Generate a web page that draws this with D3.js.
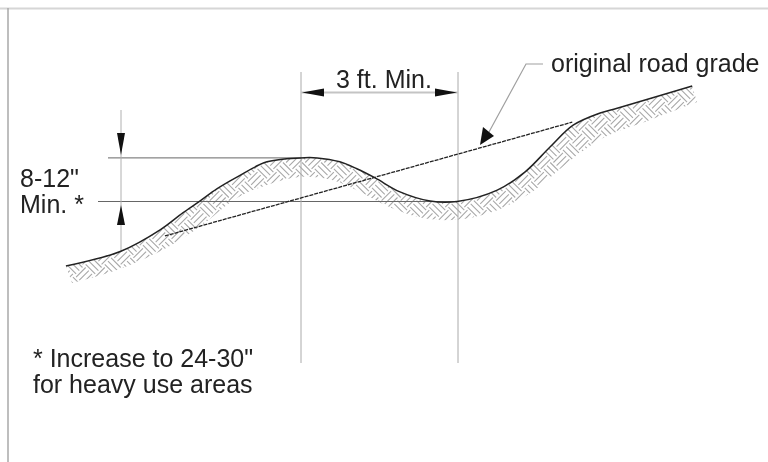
<!DOCTYPE html>
<html>
<head>
<meta charset="utf-8">
<script src="https://cdn.jsdelivr.net/npm/d3@7"></script>
<style>
  html, body { margin: 0; background: #fff; }
  /* the source is a soft scan */
  svg { display: block; filter: blur(0.45px); }
  text { font-family: "Liberation Sans", Arial, sans-serif; font-size: 25px; fill: #222; }
</style>
</head>
<body>
<svg id="chart" width="768" height="462"></svg>
<script>
// Everything is in inches: station along the road, height above the trough
const groundStation = [-53.9, -41.3, -32.3, -27.1, -23.2, -19.3, -14.7, -7.8, -0.2, 3.7, 8.9, 12.8, 17.0, 22.7, 29.6, 35.8, 45.0, 51.4, 57.1, 62.4, 68.6, 72.5, 89.7];
const groundHeight = [-14.8, -11.4, -6.5, -2.6, 0.1, 2.9, 5.6, 9.1, 10.0, 10.0, 9.1, 7.5, 5.4, 2.2, 0.1, 0, 2.6, 6.8, 12.5, 17.5, 20.3, 21.4, 26.5];

// Lower edge of the hatched soil band
const soilStation = [-52.5, -42.2, -31.7, -23.2, -14.7, -7.8, -0.2, 7.3, 12.8, 20.4, 28.0, 35.8, 43.3, 52.5, 61.0, 69.3, 80.0, 90.8];
const soilHeight = [-18.7, -15.7, -11.1, -5.8, 0.8, 3.8, 5.6, 4.9, 2.6, -1.3, -3.8, -4.2, -2.6, 1.9, 8.8, 14.6, 18.7, 22.8];

const gradeStation = [-31.2, 62.2];
const gradeHeight = [-7.9, 18.2];

const crownHeight = 10;
const troughHeight = 0;
const widthStations = [0, 36];

const svg = d3.select('#chart');

// 36 in spans the two uprights
const x = d3.scaleLinear().domain([0, 36]).range([301, 458]);
const y = d3.scaleLinear().domain([0, 10]).range([201.5, 157.9]);

const groundPoints = d3.zip(groundStation, groundHeight);
const soilPoints = d3.zip(soilStation, soilHeight);

const line = d3.line()
  .x(d => x(d[0]))
  .y(d => y(d[1]))
  .curve(d3.curveCatmullRom.alpha(0.5));

// Frame, only top and left show in the scan
svg.append('path')
  .attr('d', 'M0,8.5H768')
  .attr('stroke', '#d6d6d6')
  .attr('stroke-width', 2);
svg.append('path')
  .attr('d', 'M8,8V462')
  .attr('stroke', '#a8a8a8')
  .attr('stroke-width', 1.5);

// Soil band clip
const soilOutline = line(groundPoints) + 'L' + line(soilPoints.slice().reverse()).slice(1) + 'Z';
svg.append('clipPath').attr('id', 'soil-clip').append('path').attr('d', soilOutline);

// Woven block texture turned by 45 degrees, three strokes per block
const S = 13.5;
let hatch = '';
for (let i = -40; i <= 40; i++) {
  for (let j = -40; j <= 40; j++) {
    const ox = i * S;
    const oy = j * S;
    for (let k = 0; k < 3; k++) {
      const step = (k + 0.5) * S / 3;
      hatch += (i + j) % 2 === 0
        ? 'M' + ox + ',' + (oy + step) + 'h' + S
        : 'M' + (ox + step) + ',' + oy + 'v' + S;
    }
  }
}
svg.append('g')
  .attr('clip-path', 'url(#soil-clip)')
  .append('path')
  .attr('d', hatch)
  .attr('transform', 'translate(380,180) rotate(45)')
  .attr('fill', 'none')
  .attr('stroke', '#a8a8a8')
  .attr('stroke-width', 1.1);

// Thin dimension lines
const thin = (x1, y1, x2, y2, color) => svg.append('line')
  .attr('x1', x1).attr('y1', y1).attr('x2', x2).attr('y2', y2)
  .attr('stroke', color).attr('stroke-width', 1);

thin(108, y(crownHeight), x(0), y(crownHeight), '#666');
thin(98, y(troughHeight), x(widthStations[1]), y(troughHeight), '#666');
widthStations.forEach(s => thin(x(s), 72, x(s), 363, '#aaa'));
thin(121, 110, 121, 251, '#b0b0b0');

svg.append('line')
  .attr('x1', x(0)).attr('y1', 92.5).attr('x2', x(36)).attr('y2', 92.5)
  .attr('stroke', '#c4c4c4').attr('stroke-width', 2);

// Leader to the old grade
svg.append('path')
  .attr('d', 'M543,64H526L489,132')
  .attr('fill', 'none')
  .attr('stroke', '#a0a0a0')
  .attr('stroke-width', 1.2);

// Arrow heads
const arrows = [
  'M121,155L117,133H125Z',
  'M121,205L117,225H125Z',
  'M302,92.5L324,88.5V96.5Z',
  'M457,92.5L435,88.5V96.5Z',
  'M480,145L483,127L494,136Z'
];
svg.selectAll('.arrow').data(arrows).enter().append('path')
  .attr('class', 'arrow')
  .attr('d', d => d)
  .attr('fill', '#111');

// Old grade, dashed
svg.append('path')
  .attr('d', d3.line().x(d => x(d[0])).y(d => y(d[1]))(d3.zip(gradeStation, gradeHeight)))
  .attr('fill', 'none')
  .attr('stroke', '#222')
  .attr('stroke-width', 1.3)
  .attr('stroke-dasharray', '4 1');

// Ground surface
svg.append('path')
  .attr('d', line(groundPoints))
  .attr('fill', 'none')
  .attr('stroke', '#222')
  .attr('stroke-width', 1.5);

// Labels
const labels = [
  ['3 ft. Min.', 336, 88],
  ['original road grade', 551, 72],
  ['8-12"', 20, 187],
  ['Min. *', 20, 213],
  ['* Increase to 24-30"', 33, 367],
  ['for heavy use areas', 33, 393]
];
svg.selectAll('.label').data(labels).enter().append('text')
  .attr('class', 'label')
  .attr('x', d => d[1])
  .attr('y', d => d[2])
  .text(d => d[0]);
</script>
</body>
</html>
